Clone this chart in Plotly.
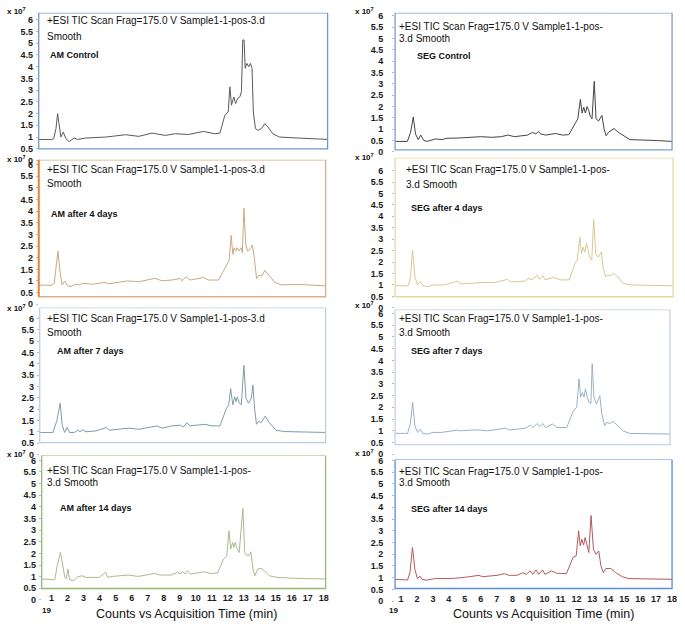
import plotly.graph_objects as go

W, H = 685, 628

# ---- data (time in min, counts x10^7) ----
am_ctrl_t = [0.38, 1.13, 1.30, 1.44, 1.54, 1.64, 1.74, 1.89, 2.05, 2.25, 2.56, 2.76, 3.27, 4.49, 5.71, 6.52, 7.34, 8.15, 8.76, 9.58,
             10.49, 11.20, 11.51, 11.81, 12.02, 12.12, 12.22, 12.36, 12.47, 12.59, 12.73, 12.83, 12.91, 12.99, 13.06, 13.16, 13.28,
             13.38, 13.48, 13.56, 13.69, 13.85, 14.05, 14.26, 14.46, 14.76, 15.17, 16.29, 18.12]
am_ctrl_v = [0.90, 0.89, 0.93, 1.36, 2.00, 1.50, 1.00, 1.21, 0.93, 0.81, 0.96, 0.90, 0.96, 1.00, 1.10, 1.03, 1.17, 1.07, 1.14, 1.11,
             1.24, 1.14, 1.17, 1.93, 2.07, 3.14, 2.36, 2.71, 2.43, 2.64, 2.71, 2.93, 5.14, 5.14, 3.93, 4.14, 4.00,
             4.14, 3.93, 2.07, 1.36, 1.29, 1.36, 1.57, 1.43, 1.14, 1.00, 0.96, 0.90]

seg_ctrl_t = [0.63, 1.40, 1.60, 1.77, 1.91, 2.08, 2.24, 2.43, 2.64, 3.15, 3.57, 3.88, 4.60, 5.22, 6.05, 6.67, 7.29, 7.70, 8.12, 8.94,
              9.25, 9.46, 9.61, 9.77, 10.08, 10.70, 11.12, 11.53, 11.84, 12.09, 12.25, 12.36, 12.46, 12.56, 12.67, 12.77, 12.87,
              12.98, 13.12, 13.23, 13.39, 13.60, 13.74, 13.87, 14.01, 14.16, 14.36, 14.63, 14.94, 15.36, 17.01, 18.00]
seg_ctrl_v = [0.46, 0.46, 0.86, 1.54, 0.79, 0.54, 0.74, 0.50, 0.46, 0.57, 0.54, 0.60, 0.61, 0.64, 0.67, 0.64, 0.67, 0.74, 0.67, 0.74,
              0.86, 0.79, 0.89, 0.79, 0.74, 0.81, 0.74, 0.76, 1.14, 1.46, 2.31, 1.71, 1.97, 1.71, 2.00, 1.83, 1.57,
              1.46, 3.11, 1.46, 1.36, 1.61, 1.00, 0.71, 0.86, 0.93, 1.03, 0.86, 0.71, 0.54, 0.50, 0.46]

am_4d_t = [0.38, 1.14, 1.34, 1.45, 1.57, 1.69, 1.82, 1.98, 2.16, 2.37, 2.64, 2.88, 3.09, 3.70, 4.48, 4.73, 5.86, 6.57, 7.56, 8.01,
           8.62, 9.14, 9.24, 9.49, 9.75, 10.57, 10.88, 11.50, 12.01, 12.15, 12.28, 12.38, 12.46, 12.56, 12.64, 12.77, 12.89,
           12.97, 13.07, 13.18, 13.30, 13.44, 13.59, 13.71, 13.85, 14.00, 14.16, 14.37, 14.61, 14.98, 15.39, 16.42, 18.12]
am_4d_v = [0.83, 0.81, 0.90, 1.46, 2.29, 1.46, 0.83, 1.00, 0.79, 0.76, 0.86, 0.83, 0.90, 0.86, 0.94, 0.88, 1.00, 0.97, 1.11, 1.01,
           1.04, 1.11, 1.01, 1.18, 1.04, 1.15, 1.04, 1.04, 1.74, 1.88, 2.96, 2.15, 2.43, 2.29, 2.43, 2.29, 2.43,
           2.22, 4.13, 2.57, 2.29, 2.36, 2.54, 2.01, 1.11, 1.25, 1.21, 1.46, 1.25, 0.94, 0.83, 0.85, 0.79]

seg_4d_t = [0.63, 1.45, 1.60, 1.72, 1.87, 2.03, 2.20, 2.38, 2.65, 3.10, 3.72, 4.55, 4.75, 5.99, 6.82, 7.64, 7.85, 8.77, 8.98, 9.19,
            9.50, 9.66, 9.87, 10.01, 10.53, 10.94, 11.52, 11.87, 12.01, 12.18, 12.28, 12.38, 12.49, 12.59, 12.69, 12.79, 12.92,
            13.04, 13.17, 13.31, 13.52, 13.62, 13.79, 13.93, 14.07, 14.28, 14.55, 14.86, 15.37, 18.00]
seg_4d_v = [0.96, 0.96, 1.36, 2.51, 1.36, 1.00, 1.14, 0.96, 0.93, 1.00, 1.00, 1.17, 1.04, 1.10, 1.10, 1.24, 1.13, 1.17, 1.29, 1.22,
            1.43, 1.24, 1.40, 1.22, 1.33, 1.22, 1.22, 1.93, 2.08, 3.08, 2.36, 2.65, 2.44, 2.82, 2.51, 2.22, 2.08,
            3.87, 2.36, 2.22, 2.44, 1.79, 1.36, 1.43, 1.39, 1.50, 1.36, 1.07, 1.00, 0.96]

am_7d_t = [0.38, 1.20, 1.45, 1.65, 1.77, 1.92, 2.08, 2.23, 2.53, 2.74, 2.88, 3.05, 3.25, 3.87, 4.52, 4.69, 5.92, 6.53, 7.66, 7.97,
           8.58, 9.10, 9.30, 9.51, 9.71, 10.63, 11.04, 11.56, 11.97, 12.11, 12.23, 12.36, 12.48, 12.56, 12.64, 12.77, 12.89,
           13.05, 13.18, 13.34, 13.51, 13.61, 13.71, 13.83, 13.98, 14.12, 14.37, 14.63, 15.04, 15.56, 18.12]
am_7d_v = [0.97, 0.97, 1.50, 2.26, 1.33, 0.97, 1.19, 0.97, 0.97, 1.07, 1.00, 1.09, 1.00, 1.04, 1.19, 1.07, 1.16, 1.11, 1.26, 1.16,
           1.26, 1.29, 1.21, 1.40, 1.26, 1.33, 1.26, 1.26, 2.04, 2.19, 2.90, 2.19, 2.54, 2.33, 2.54, 2.26, 2.19,
           3.94, 2.47, 2.26, 2.47, 3.07, 2.04, 1.33, 1.47, 1.40, 1.69, 1.40, 1.07, 1.01, 0.97]

seg_7d_t = [0.63, 1.42, 1.59, 1.74, 1.88, 2.05, 2.21, 2.38, 2.67, 3.03, 3.55, 4.59, 4.70, 5.84, 6.47, 7.62, 7.83, 8.87, 9.18, 9.35,
            9.60, 9.76, 9.95, 10.12, 10.58, 10.85, 11.47, 11.89, 12.10, 12.25, 12.35, 12.46, 12.56, 12.66, 12.77, 12.89, 13.00,
            13.08, 13.19, 13.35, 13.56, 13.69, 13.87, 13.98, 14.19, 14.39, 14.71, 15.02, 15.44, 18.00]
seg_7d_v = [0.89, 0.89, 1.29, 2.21, 1.21, 0.93, 1.07, 0.89, 0.86, 0.93, 0.93, 1.03, 1.00, 1.04, 1.00, 1.11, 1.03, 1.11, 1.24, 1.14,
            1.31, 1.17, 1.31, 1.14, 1.29, 1.14, 1.14, 1.86, 2.00, 3.21, 2.43, 2.64, 2.43, 2.79, 2.43, 2.21, 2.17,
            3.86, 2.43, 2.14, 2.50, 1.71, 1.21, 1.36, 1.31, 1.40, 1.21, 1.00, 0.89, 0.86]

am_14d_t = [0.39, 1.20, 1.35, 1.55, 1.67, 1.82, 1.92, 2.02, 2.12, 2.37, 2.64, 2.90, 3.15, 3.97, 4.37, 4.50, 4.78, 5.81, 6.42, 7.44,
            7.75, 8.46, 8.87, 9.04, 9.18, 9.34, 9.49, 9.69, 10.51, 10.92, 11.37, 11.74, 11.94, 12.08, 12.19, 12.31, 12.39, 12.47,
            12.60, 12.72, 12.95, 13.07, 13.17, 13.33, 13.45, 13.58, 13.70, 13.88, 14.09, 14.29, 14.60, 15.11, 16.23, 18.10]
am_14d_v = [0.90, 0.87, 1.47, 2.04, 1.61, 0.97, 0.90, 1.33, 0.87, 0.83, 1.00, 1.04, 0.97, 0.97, 1.19, 0.97, 1.01, 1.07, 1.01, 1.14,
            1.07, 1.07, 1.19, 1.11, 1.23, 1.11, 1.26, 1.11, 1.21, 1.14, 1.16, 1.76, 1.87, 2.97, 2.19, 2.47, 2.26, 2.47,
            2.19, 2.04, 3.93, 2.04, 1.93, 1.90, 2.07, 1.33, 1.04, 1.33, 1.36, 1.26, 1.04, 0.97, 0.93, 0.90]

seg_14d_t = [0.63, 1.41, 1.56, 1.72, 1.87, 2.03, 2.18, 2.32, 2.59, 3.11, 3.52, 4.35, 5.17, 5.90, 6.10, 7.03, 7.49, 7.76, 8.27, 8.64,
             8.85, 9.10, 9.26, 9.47, 9.64, 9.88, 10.03, 10.44, 10.75, 11.37, 11.79, 11.99, 12.14, 12.24, 12.34, 12.45, 12.55,
             12.65, 12.78, 12.92, 13.07, 13.23, 13.40, 13.54, 13.69, 13.85, 14.16, 14.47, 14.88, 15.30, 17.78, 18.00]
seg_14d_v = [0.93, 0.90, 1.21, 2.29, 1.36, 0.96, 1.07, 0.93, 0.89, 0.96, 0.96, 0.97, 1.03, 1.10, 1.04, 1.10, 1.17, 1.10, 1.10, 1.21,
             1.14, 1.29, 1.14, 1.33, 1.14, 1.33, 1.14, 1.29, 1.19, 1.17, 1.86, 1.93, 3.00, 2.36, 2.64, 2.39, 2.71,
             2.43, 2.07, 3.65, 2.21, 2.00, 2.14, 1.50, 1.21, 1.39, 1.39, 1.21, 1.04, 0.96, 0.93, 0.93]

y_ticks = [0, 0.5, 1, 1.5, 2, 2.5, 3, 3.5, 4, 4.5, 5, 5.5, 6]
y_ticktext = ["0", "0.5", "1", "1.5", "2", "2.5", "3", "3.5", "4", "4.5", "5", "5.5", "6"]
x_ticks = list(range(1, 19))

title_a = ["+ESI TIC Scan Frag=175.0 V Sample1-1-pos-3.d", "Smooth"]
title_b = ["+ESI TIC Scan Frag=175.0 V Sample1-1-pos-", "3.d Smooth"]

x_range = {"L": [0.38, 18.12], "R": [0.63, 18.0]}


def X(px):
    return px / W


def Y(py):
    return 1 - py / H


# box = (left, right, top, bottom) px ; p6 / p1 = pixel rows of the 6 and 1 ticks
panels = [
    dict(t=am_ctrl_t, v=am_ctrl_v, col="L", box=(39, 330, 9, 147), p6=16, p1=135,
         line="#5a5a5a", border="#6f97c8", label="AM Control", lab=(48, 52), title=title_a, tt=(45, 17, 33), xl=7),
    dict(t=am_4d_t, v=am_4d_v, col="L", box=(39, 328, 158, 297), p6=163, p1=281,
         line="#c9a982", border="#dcae88", label="AM after 4 days", lab=(49, 213), title=title_a, tt=(45, 168, 182), xl=157),
    dict(t=am_7d_t, v=am_7d_v, col="L", box=(40, 328, 308, 445), p6=319, p1=434,
         line="#7d9da8", border="#bccfe0", label="AM after 7 days", lab=(55, 352), title=title_a, tt=(45, 319, 333), xl=308),
    dict(t=am_14d_t, v=am_14d_v, col="L", box=(42, 328, 458, 593), p6=463, p1=581,
         line="#a8bc8f", border="#94bb6c", label="AM after 14 days", lab=(58, 511), title=title_b, tt=(45, 473, 485), xl=457),
    dict(t=seg_ctrl_t, v=seg_ctrl_v, col="R", box=(398, 677, 9, 148), p6=12, p1=127,
         line="#444444", border="#7a9fcc", label="SEG Control", lab=(418, 53), title=title_b, tt=(400, 23, 35), xl=7),
    dict(t=seg_4d_t, v=seg_4d_v, col="R", box=(398, 678, 156, 297), p6=169, p1=285,
         line="#d8c890", border="#e8d9a0", label="SEG after 4 days", lab=(412, 207), title=title_b, tt=(407, 168, 183), xl=155),
    dict(t=seg_7d_t, v=seg_7d_v, col="R", box=(398, 675, 310, 447), p6=314, p1=433,
         line="#9db0c6", border="#c2d3e4", label="SEG after 7 days", lab=(412, 352), title=title_b, tt=(400, 319, 333), xl=305),
    dict(t=seg_14d_t, v=seg_14d_v, col="R", box=(398, 677, 462, 593), p6=463, p1=582,
         line="#b25a5a", border="#5b8fd0", label="SEG after 14 days", lab=(412, 512), title=title_b, tt=(400, 474, 485), xl=456),
]

FONT = "Liberation Sans"
fig = go.Figure()
layout = {}
shapes = []
ann = []

for i, p in enumerate(panels):
    n = i + 1
    sfx = "" if n == 1 else str(n)
    x0, x1, top, bot = p["box"]
    u = (p["p1"] - p["p6"]) / 5
    p0 = p["p1"] + u
    vtop = 6 + (p["p6"] - top) / u
    vbot = 1 - (bot - p["p1"]) / u
    bottom_row = n in (4, 8)

    fig.add_trace(go.Scatter(x=p["t"], y=p["v"], mode="lines", xaxis="x" + sfx, yaxis="y" + sfx,
                             line=dict(color=p["line"], width=1), showlegend=False, hoverinfo="skip"))

    xa = dict(domain=[X(x0), X(x1)], range=x_range[p["col"]], anchor="y" + sfx,
              showgrid=False, zeroline=False, showline=False)
    if bottom_row:
        xa.update(tickvals=x_ticks, ticks="", ticklabelstandoff=-9,
                  tickfont=dict(family=FONT, size=9, color="#1a1a1a", weight="bold"))
    else:
        xa.update(showticklabels=False, ticks="")
    ya = dict(domain=[Y(p0), Y(top)], range=[0, vtop], anchor="x" + sfx,
              tickvals=y_ticks, ticktext=y_ticktext, ticks="outside", ticklen=2, tickcolor="#bbbbbb",
              ticklabelstandoff=(1 if p["col"] == "L" else 7),
              tickfont=dict(family=FONT, size=9, color="#1a1a1a", weight="bold"),
              showgrid=False, zeroline=False, showline=False)
    layout["xaxis" + sfx] = xa
    layout["yaxis" + sfx] = ya

    shapes.append(dict(type="rect", xref=f"x{sfx} domain", yref="y" + sfx, x0=0, x1=1, y0=vbot, y1=vtop,
                       line=dict(color=p["border"], width=1.3), layer="above"))
    if n == 2:
        shapes.append(dict(type="line", xref="x2 domain", yref="y2", x0=0, x1=0, y0=vbot, y1=vtop + 0.2,
                           line=dict(color="#e8843c", width=2)))

    tx, ty1, ty2 = p["tt"]
    ann.append(dict(text=p["title"][0], x=X(tx), y=Y(ty1)))
    ann.append(dict(text=p["title"][1], x=X(tx), y=Y(ty2)))
    ann.append(dict(text=p["label"], x=X(p["lab"][0]), y=Y(p["lab"][1]), font=dict(size=9, weight="bold")))
    xl_x = 5 if p["col"] == "L" else 356
    ann.append(dict(text="x 10<sup>7</sup>", x=X(xl_x), y=Y(p["xl"]), font=dict(size=8, weight="bold")))

for c, xx, cx in (("L", 40, 188), ("R", 390, 547)):
    ann.append(dict(text="19", x=X(xx), y=Y(615), font=dict(size=8, weight="bold")))
    ann.append(dict(text="Counts vs Acquisition Time (min)", x=X(cx), y=Y(619), xanchor="center",
                    font=dict(size=12.5)))

for a in ann:
    a.setdefault("xanchor", "left")
    a.update(xref="paper", yref="paper", yanchor="middle", showarrow=False)
    f = dict(family=FONT, size=10, color="#111111")
    f.update(a.get("font", {}))
    a["font"] = f

fig.update_layout(
    width=W, height=H,
    margin=dict(l=0, r=0, t=0, b=0),
    paper_bgcolor="white", plot_bgcolor="white",
    shapes=shapes, annotations=ann,
    **layout,
)

# drop the browser's default 8px body margin so the figure sits at the page origin
fig.write_html("out.html", config={"displayModeBar": False},
               post_script="document.body.style.margin='0';")
